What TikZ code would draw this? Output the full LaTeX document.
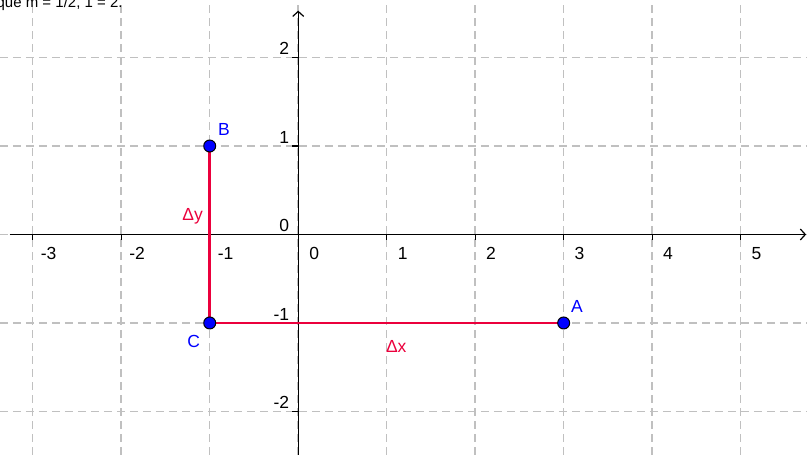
\documentclass[tikz,border=0pt]{standalone}
\usepackage{fontspec}
\setmainfont{Liberation Sans}
\usetikzlibrary{arrows.meta}
\definecolor{ggbred}{RGB}{235,0,60}
\definecolor{ggbblue}{RGB}{0,0,255}
\definecolor{gridgray}{RGB}{192,192,192}

\begin{document}
\begin{tikzpicture}[x=88.5pt, y=88.5pt, font=\fontsize{17.5}{20}\selectfont,
    gridline/.style={gridgray, line width=1.5pt, dash pattern=on 8pt off 5pt},
    axisline/.style={line width=1.2pt, -{Straight Barb[length=5pt,width=11pt]}},
    segline/.style={ggbred, line width=2.6pt},
    ptdot/.style={circle, draw=black, fill=ggbblue, line width=1pt,
                  inner sep=0pt, minimum size=12pt},
    ptlabel/.style={text=ggbblue, inner sep=0pt},
    ticklabel/.style={inner sep=0pt}]
  \clip (-3.37,-2.49) rectangle (5.75,2.65);
  % grid
  \foreach \x in {-3,...,5}
    \draw[gridline] (\x,-2.49) -- (\x,2.65);
  \foreach \y in {-2,...,2}
    \draw[gridline] (-3.37,\y) -- (5.75,\y);
  % axes
  \coordinate (xstart) at (-3.26,0);
  \coordinate (xend) at (5.74,0);
  \coordinate (ystart) at (0,-2.49);
  \coordinate (yend) at (0,2.53);
  \draw[axisline] (xstart) -- (xend);
  \draw[axisline] (ystart) -- (yend);
  \foreach \x in {-3,...,5} {
    \draw[line width=1.2pt] (\x,0) -- (\x,-0.065);
    \node[ticklabel] (xl\x) at (\x+0.18,-0.215) {\x};
  }
  \foreach \y in {-2,...,2} {
    \draw[line width=1.2pt] (0,\y) -- (-0.065,\y);
    \node[ticklabel, anchor=east] (yl\y) at (-0.1,\y+0.1) {\y};
  }
  % points and segments
  \coordinate (A) at (3,-1);
  \coordinate (B) at (-1,1);
  \coordinate (C) at (-1,-1);
  \draw[segline] (B) -- (C) -- (A);
  \node[ptdot] (dotA) at (A) {};
  \node[ptdot] (dotB) at (B) {};
  \node[ptdot] (dotC) at (C) {};
  \node[ptlabel] (labA) at (3.15,-0.81) {A};
  \node[ptlabel] (labB) at (-0.84,1.19) {B};
  \node[ptlabel] (labC) at (-1.18,-1.21) {C};
  \node[text=ggbred, anchor=east, inner sep=0pt] (dy) at (-1.075,0.2) {Δy};
  \node[text=ggbred, anchor=west, inner sep=0pt] (dx) at (0.99,-1.27) {Δx};
  % cut-off caption
  \node[anchor=base west, inner sep=0pt, font=\fontsize{15}{17}\selectfont]
    (caption) at (-3.41,2.56) {que m = 1/2, 1 = 2.};
\end{tikzpicture}
\end{document}
